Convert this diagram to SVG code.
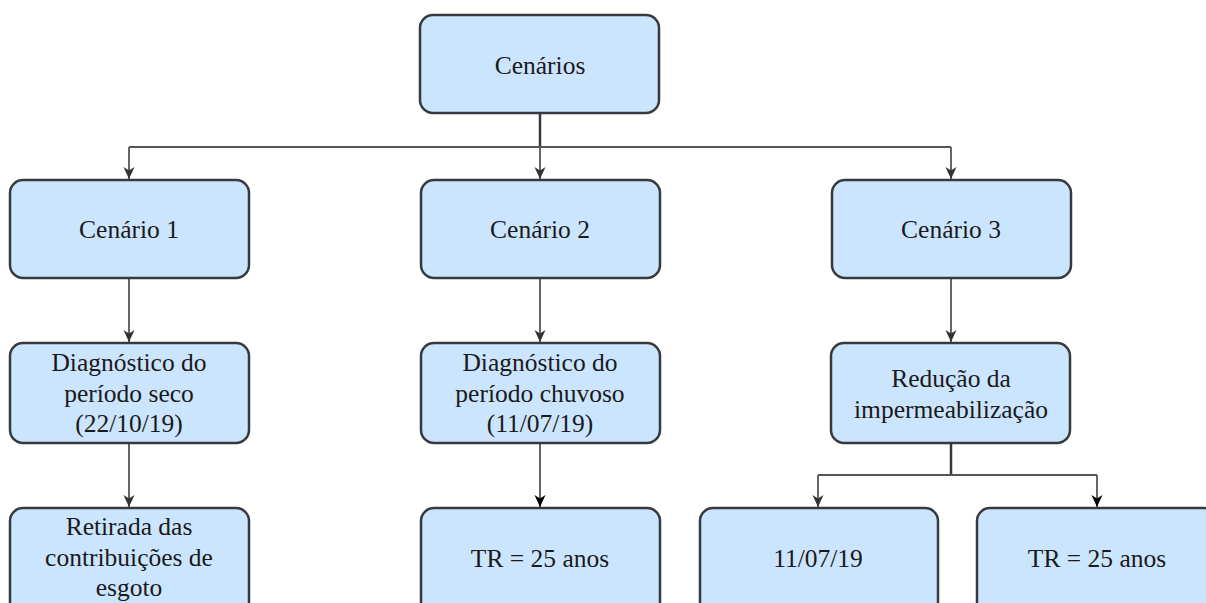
<svg xmlns="http://www.w3.org/2000/svg" width="1206" height="603" viewBox="0 0 1206 603">
<style>
.box{fill:#cce5ff;stroke:#36393d;stroke-width:2.5}
.t{font-family:"Liberation Serif","Times New Roman",serif;font-size:25.5px;fill:#1a1a1a;text-anchor:middle}
.c{fill:none;stroke:#555;stroke-width:1.8}
.stem{fill:none;stroke:#36393d;stroke-width:2.5}
</style>
<defs>
<marker id="arr" markerUnits="userSpaceOnUse" markerWidth="14" markerHeight="14" viewBox="0 0 14 14" refX="12" refY="7" orient="auto">
<path d="M0,1.5 L12,7 L0,12.5 L3.5,7 Z" fill="#333"/>
</marker>
<marker id="arrk" markerUnits="userSpaceOnUse" markerWidth="14" markerHeight="14" viewBox="0 0 14 14" refX="12" refY="7" orient="auto">
<path d="M0,1.5 L12,7 L0,12.5 L3.5,7 Z" fill="#000"/>
</marker>
</defs>
<g id="connectors">
<path class="stem" d="M540,113 V147"/>
<path class="c" d="M129,147 H951"/>
<path class="c" d="M129,147 V179" marker-end="url(#arr)"/>
<path class="c" d="M540,147 V179" marker-end="url(#arr)"/>
<path class="c" d="M951,147 V179" marker-end="url(#arr)"/>
<path class="c" d="M129,278 V342" marker-end="url(#arr)"/>
<path class="c" d="M540,278 V342" marker-end="url(#arr)"/>
<path class="c" d="M951,278 V342" marker-end="url(#arr)"/>
<path class="c" d="M129,443 V507" marker-end="url(#arr)"/>
<path class="c" d="M540,443 V507" stroke="#333" marker-end="url(#arrk)"/>
<path class="stem" d="M951,443 V475"/>
<path class="c" d="M818,475 H1097" stroke="#333"/>
<path class="c" d="M818,475 V507" marker-end="url(#arr)"/>
<path class="c" d="M1097,475 V507" stroke="#333" marker-end="url(#arrk)"/>
</g>
<g id="root"><rect class="box" x="420" y="15" width="239" height="98" rx="13"/><text class="t" x="540" y="74">Cenários</text></g>
<g id="c1"><rect class="box" x="10" y="180" width="239" height="98" rx="13"/><text class="t" x="129" y="238">Cenário 1</text></g>
<g id="c2"><rect class="box" x="421" y="180" width="239" height="98" rx="13"/><text class="t" x="540" y="238">Cenário 2</text></g>
<g id="c3"><rect class="box" x="832" y="180" width="239" height="98" rx="13"/><text class="t" x="951" y="238">Cenário 3</text></g>
<g id="d1"><rect class="box" x="10" y="343" width="239" height="100" rx="13"/><text class="t" x="129" y="371">Diagnóstico do</text><text class="t" x="129" y="402">período seco</text><text class="t" x="129" y="432">(22/10/19)</text></g>
<g id="d2"><rect class="box" x="421" y="343" width="239" height="100" rx="13"/><text class="t" x="540" y="371">Diagnóstico do</text><text class="t" x="540" y="402">período chuvoso</text><text class="t" x="540" y="432">(11/07/19)</text></g>
<g id="d3"><rect class="box" x="831" y="343" width="239" height="100" rx="13"/><text class="t" x="951" y="387">Redução da</text><text class="t" x="951" y="418">impermeabilização</text></g>
<g id="e1"><rect class="box" x="10" y="508" width="239" height="110" rx="13"/><text class="t" x="129" y="535">Retirada das</text><text class="t" x="129" y="566">contribuições de</text><text class="t" x="129" y="596">esgoto</text></g>
<g id="e2"><rect class="box" x="421" y="508" width="239" height="110" rx="13"/><text class="t" x="540" y="567">TR = 25 anos</text></g>
<g id="e3"><rect class="box" x="700" y="508" width="238" height="110" rx="13"/><text class="t" x="818" y="567">11/07/19</text></g>
<g id="e4"><rect class="box" x="977" y="508" width="240" height="110" rx="13"/><text class="t" x="1097" y="567">TR = 25 anos</text></g>
</svg>
